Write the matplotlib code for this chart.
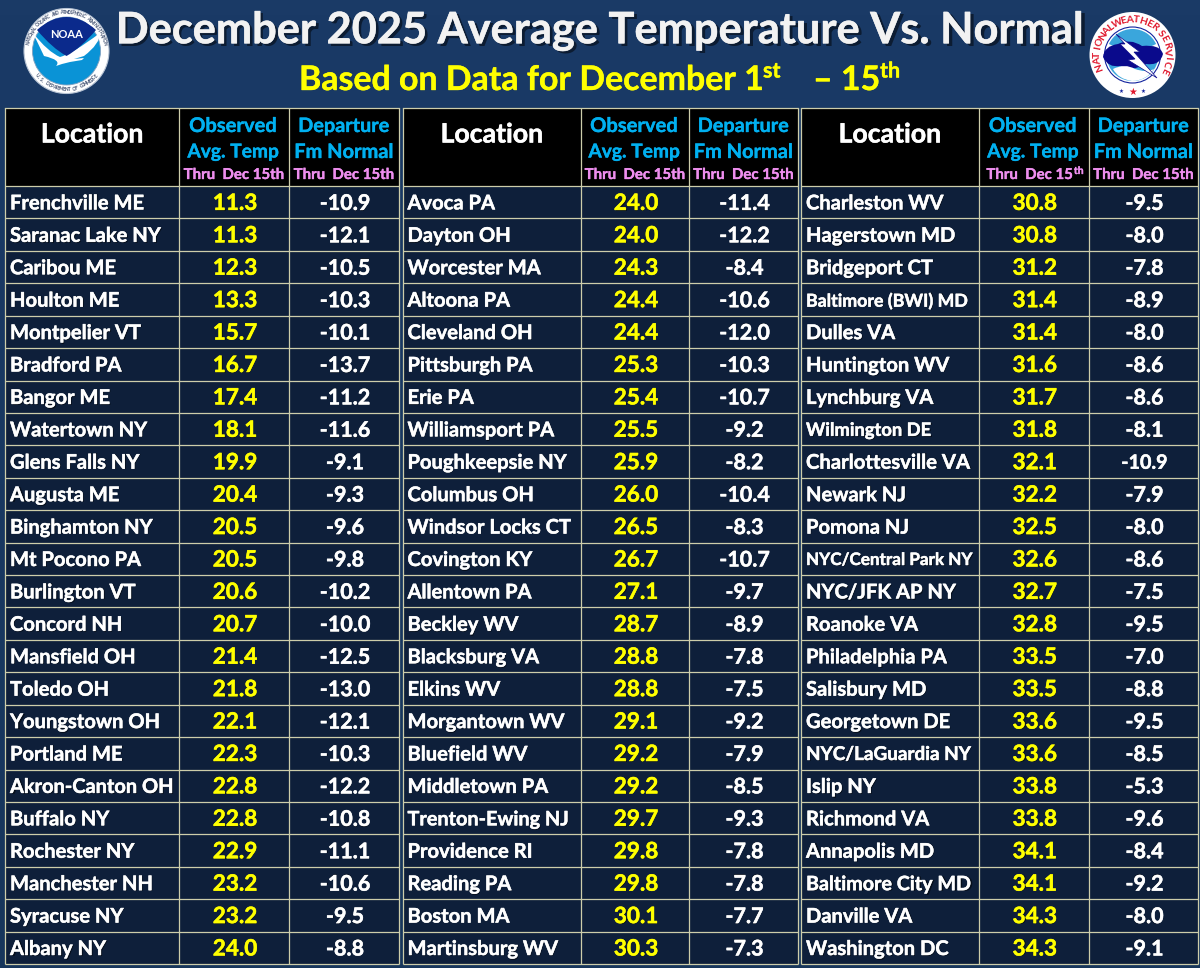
import numpy as np
import matplotlib
matplotlib.use("Agg")
import matplotlib.pyplot as plt
from matplotlib.patches import Rectangle, Circle, Polygon, Wedge
from matplotlib.path import Path
from matplotlib.patches import PathPatch
import matplotlib.patheffects as pe

plt.rcParams['font.family'] = ['Lato', 'DejaVu Sans']

title_text = "December 2025 Average Temperature Vs. Normal"
sub_main = "Based on Data for December 1"
sub_mid = "– 15"
sup_st = "st"
sup_th = "th"

loc1 = ["Frenchville ME","Saranac Lake NY","Caribou ME","Houlton ME","Montpelier VT","Bradford PA","Bangor ME","Watertown NY","Glens Falls NY","Augusta ME","Binghamton NY","Mt Pocono PA","Burlington VT","Concord NH","Mansfield OH","Toledo OH","Youngstown OH","Portland ME","Akron-Canton OH","Buffalo NY","Rochester NY","Manchester NH","Syracuse NY","Albany NY"]
obs1 = ["11.3","11.3","12.3","13.3","15.7","16.7","17.4","18.1","19.9","20.4","20.5","20.5","20.6","20.7","21.4","21.8","22.1","22.3","22.8","22.8","22.9","23.2","23.2","24.0"]
dep1 = ["-10.9","-12.1","-10.5","-10.3","-10.1","-13.7","-11.2","-11.6","-9.1","-9.3","-9.6","-9.8","-10.2","-10.0","-12.5","-13.0","-12.1","-10.3","-12.2","-10.8","-11.1","-10.6","-9.5","-8.8"]

loc2 = ["Avoca PA","Dayton OH","Worcester MA","Altoona PA","Cleveland OH","Pittsburgh PA","Erie PA","Williamsport PA","Poughkeepsie NY","Columbus OH","Windsor Locks CT","Covington KY","Allentown PA","Beckley WV","Blacksburg VA","Elkins WV","Morgantown WV","Bluefield WV","Middletown PA","Trenton-Ewing NJ","Providence RI","Reading PA","Boston MA","Martinsburg WV"]
obs2 = ["24.0","24.0","24.3","24.4","24.4","25.3","25.4","25.5","25.9","26.0","26.5","26.7","27.1","28.7","28.8","28.8","29.1","29.2","29.2","29.7","29.8","29.8","30.1","30.3"]
dep2 = ["-11.4","-12.2","-8.4","-10.6","-12.0","-10.3","-10.7","-9.2","-8.2","-10.4","-8.3","-10.7","-9.7","-8.9","-7.8","-7.5","-9.2","-7.9","-8.5","-9.3","-7.8","-7.8","-7.7","-7.3"]

loc3 = ["Charleston WV","Hagerstown MD","Bridgeport CT","Baltimore (BWI) MD","Dulles VA","Huntington WV","Lynchburg VA","Wilmington DE","Charlottesville VA","Newark NJ","Pomona NJ","NYC/Central Park NY","NYC/JFK AP NY","Roanoke VA","Philadelphia PA","Salisbury MD","Georgetown DE","NYC/LaGuardia NY","Islip NY","Richmond VA","Annapolis MD","Baltimore City MD","Danville VA","Washington DC"]
obs3 = ["30.8","30.8","31.2","31.4","31.4","31.6","31.7","31.8","32.1","32.2","32.5","32.6","32.7","32.8","33.5","33.5","33.6","33.6","33.8","33.8","34.1","34.1","34.3","34.3"]
dep3 = ["-9.5","-8.0","-7.8","-8.9","-8.0","-8.6","-8.6","-8.1","-10.9","-7.9","-8.0","-8.6","-7.5","-9.5","-7.0","-8.8","-9.5","-8.5","-5.3","-9.6","-8.4","-9.2","-8.0","-9.1"]

hdr_loc = "Location"
hdr_obs = ["Observed", "Avg. Temp"]
hdr_dep = ["Departure", "Fm Normal"]
hdr_thru = "Thru  Dec 15th"

# font sizes for a few names squeezed into the cell in the original
name_size = {"Baltimore (BWI) MD": 12.8, "NYC/Central Park NY": 12.3, "Charlottesville VA": 14.6,
             "Trenton-Ewing NJ": 14.3, "Wilmington DE": 13.2, "Baltimore City MD": 14.2,
             "NYC/LaGuardia NY": 13.6, "Akron-Canton OH": 14.4}

BG_TOP, BG_BOT = "#1A3A66", "#17365C"
ROW = "#0E1F3A"
GRID = "#CDCDAA"
BLUE = "#00B0F0"
PINK = "#EE8EEE"
YEL = "#FFFF00"

fig = plt.figure(figsize=(12, 9.68), dpi=100)
ax = fig.add_axes([0, 0, 1, 1])
ax.set_xlim(0, 1200); ax.set_ylim(968, 0); ax.axis("off")

grad = np.linspace(0, 1, 64)[:, None]
cmap = matplotlib.colors.LinearSegmentedColormap.from_list("bg", [BG_TOP, BG_BOT])
ax.imshow(grad, extent=(0, 1200, 968, 0), cmap=cmap, aspect="auto", zorder=0)
ax.set_xlim(0, 1200); ax.set_ylim(968, 0)

def heavy(color, w=0.35):
    return [pe.withStroke(linewidth=w, foreground=color)]

def txt_shadow(x, y, s, color, size, ha="center", off=1.2, weight="bold", **kw):
    ax.text(x + off, y + off, s, color="#000000", alpha=0.5, fontsize=size, ha=ha, va="center", fontweight=weight, zorder=4, **kw)
    return ax.text(x, y, s, color=color, fontsize=size, ha=ha, va="center", fontweight=weight, zorder=5,
                   path_effects=heavy(color), **kw)

def plain(x, y, s, color, size, ha="center"):
    return ax.text(x, y, s, color=color, fontsize=size, ha=ha, va="center", fontweight="bold", zorder=5,
                   path_effects=heavy(color, 0.25))

# titles
txt_shadow(600.5, 30.5, title_text, "#F2F2F2", 31.2, off=2)
plain(299, 80, sub_main, YEL, 24.4, ha="left")
plain(763, 71, sup_st, YEL, 15.5, ha="left")
plain(813, 80, sub_mid, YEL, 24.4, ha="left")
plain(880, 71, sup_th, YEL, 15.5, ha="left")

# tables
tables = [
    (loc1, obs1, dep1, 5, 179, 289, 399, False),
    (loc2, obs2, dep2, 402.5, 581, 689, 798, False),
    (loc3, obs3, dep3, 801, 978.5, 1089, 1198, True),
]
TOP, HEAD, BOT = 108, 186, 964
n = len(loc1)
rh = (BOT - HEAD) / n
for locs, obs, deps, x0, x1, x2, x3, sup in tables:
    ax.add_patch(Rectangle((x0, TOP), x3 - x0, HEAD - TOP, fc="black", ec="none", zorder=1))
    ax.add_patch(Rectangle((x0, HEAD), x3 - x0, BOT - HEAD, fc=ROW, ec="none", zorder=1))
    for i in range(n + 1):
        y = HEAD + i * rh
        ax.plot([x0, x3], [y, y], color=GRID, lw=0.9, zorder=3, solid_capstyle="butt")
    ax.plot([x0, x3], [TOP, TOP], color=GRID, lw=0.9, zorder=3)
    for x in (x0, x1, x2, x3):
        ax.plot([x, x], [TOP, BOT], color=GRID, lw=0.9, zorder=3, solid_capstyle="butt")
    cxo, cxd = (x1 + x2) / 2, (x2 + x3) / 2
    txt_shadow((x0 + x1) / 2, 134.5, hdr_loc, "white", 19.2, off=0.8)
    plain(cxo - 1, 126, hdr_obs[0], BLUE, 14.5)
    plain(cxo - 1, 152, hdr_obs[1], BLUE, 13.8)
    plain(cxd, 126, hdr_dep[0], BLUE, 14.3)
    plain(cxd, 152, hdr_dep[1], BLUE, 14.4)
    plain(cxd, 175, hdr_thru, PINK, 10.8)
    if sup:
        plain(cxo - 4, 175, hdr_thru[:-2], PINK, 10.8)
        plain(cxo + 45, 171.5, "th", PINK, 7.5)
    else:
        plain(cxo, 175, hdr_thru, PINK, 10.8)
    for i in range(n):
        yc = HEAD + (i + 0.5) * rh + 1.2
        txt_shadow(x0 + 5, yc, locs[i], "white", name_size.get(locs[i], 14.5), ha="left", off=0.7)
        txt_shadow(cxo + 1, yc, obs[i], YEL, 16.2, off=0.7)
        dsize = 14.2 if locs[i] == "Charlottesville VA" else 15.5
        txt_shadow(cxd + 1, yc, deps[i], "white", dsize, off=0.7)

def arc_text(cx, cy, r, s, a0, a1, color, size, top=True, weight="bold"):
    angs = np.linspace(a0, a1, len(s))
    for ch, a in zip(s, angs):
        x = cx + r * np.cos(np.radians(a)); y = cy - r * np.sin(np.radians(a))
        rot = a - 90 if top else a + 90
        ax.text(x, y, ch, color=color, fontsize=size, ha="center", va="center", rotation=rot,
                rotation_mode="anchor", fontweight=weight, zorder=8)

def curve(seq, **kw):
    verts = [seq[0]]; codes = [Path.MOVETO]
    for c, p in seq[1:]:
        verts += [c, p]; codes += [Path.CURVE3, Path.CURVE3]
    verts.append(seq[0]); codes.append(Path.CLOSEPOLY)
    ax.add_patch(PathPatch(Path(verts, codes), **kw))

# NOAA logo
cx, cy = 66.5, 51
ax.add_patch(Circle((cx, cy), 42.5, fc="white", ec="#B8C4D4", lw=0.8, zorder=6))
ax.add_patch(Circle((cx, cy), 34, fc="#0A93D6", ec="#7FA0C0", lw=0.6, zorder=6))
# navy upper field, white wings, then bird body
wings = PathPatch(Path([(33, 33), (48, 52), (60, 57), (72, 54), (100, 33), (100, 44), (84, 56), (74, 59),
                        (84, 58), (82, 60), (70, 62), (62, 64), (56, 66), (62, 60), (44, 56), (33, 33)],
                       [Path.MOVETO, Path.CURVE3, Path.CURVE3, Path.CURVE3, Path.CURVE3, Path.CURVE3, Path.CURVE3,
                        Path.LINETO, Path.LINETO, Path.LINETO, Path.LINETO, Path.LINETO, Path.LINETO,
                        Path.CURVE3, Path.CURVE3, Path.CLOSEPOLY]),
                  fc="white", ec="none", zorder=7.5)
curve([(37, 30), ((52, 48), (66.5, 56)), ((81, 48), (96, 30)), ((82, 17), (66.5, 17)), ((51, 17), (37, 30))],
      fc="#0B2A8C", ec="none", zorder=7.6)
ax.add_patch(wings)
ax.text(cx, 34, "NOAA", color="white", fontsize=8, ha="center", va="center", fontweight="bold", zorder=8)
arc_text(cx, cy, 38.5, "NATIONAL OCEANIC AND ATMOSPHERIC ADMINISTRATION", 168, 12, "#405070", 3.3)
arc_text(cx, cy, 38.5, "U.S. DEPARTMENT OF COMMERCE", 220, 320, "#405070", 3.3, top=False)

# NWS logo
cx, cy = 1132.5, 55
ax.add_patch(Circle((cx, cy), 43, fc="white", ec="none", zorder=6))
ax.add_patch(Circle((cx, cy), 28, fc="white", ec="#12239E", lw=0.8, zorder=6.5))
ax.add_patch(Wedge((cx, cy), 26, 15, 165, fc="#3AA6DC", ec="none", zorder=7))
ax.add_patch(Wedge((cx, cy), 26, 205, 335, fc="#3AA6DC", ec="none", zorder=7))
curve([(1103, 57), ((1104, 46), (1118, 44)), ((1130, 38), (1142, 46)), ((1160, 44), (1163, 54)),
       ((1160, 66), (1146, 64)), ((1132, 72), (1120, 66)), ((1108, 68), (1103, 57))],
      fc="#0A0A8C", ec="none", zorder=7.5)
ax.add_patch(Polygon([(1116, 34), (1140, 52), (1134, 52), (1157, 78), (1128, 60), (1135, 59), (1120, 44), (1125, 44)],
                     fc="white", ec="#0A0A8C", lw=0.5, zorder=7.8))
curve([(1113, 69), ((1125, 63), (1135, 69)), ((1146, 73), (1154, 69)), ((1146, 81), (1132, 81)), ((1118, 79), (1113, 69))],
      fc="white", ec="none", zorder=7.6)
arc_text(cx, cy, 35, "NATIONAL", 200, 128, "#E0182D", 7.4)
arc_text(cx, cy, 35, "WEATHER", 116, 52, "#E0182D", 7.4)
arc_text(cx, cy, 35, "SERVICE", 38, -26, "#E0182D", 7.4)
ax.text(cx, cy + 37, "★", color="#E0182D", fontsize=7, ha="center", va="center", zorder=8, family="DejaVu Sans")
ax.text(cx - 11, cy + 36, "★", color="#12239E", fontsize=4, ha="center", va="center", zorder=8, family="DejaVu Sans")
ax.text(cx + 11, cy + 36, "★", color="#12239E", fontsize=4, ha="center", va="center", zorder=8, family="DejaVu Sans")

fig.savefig("out.png", dpi=100)
